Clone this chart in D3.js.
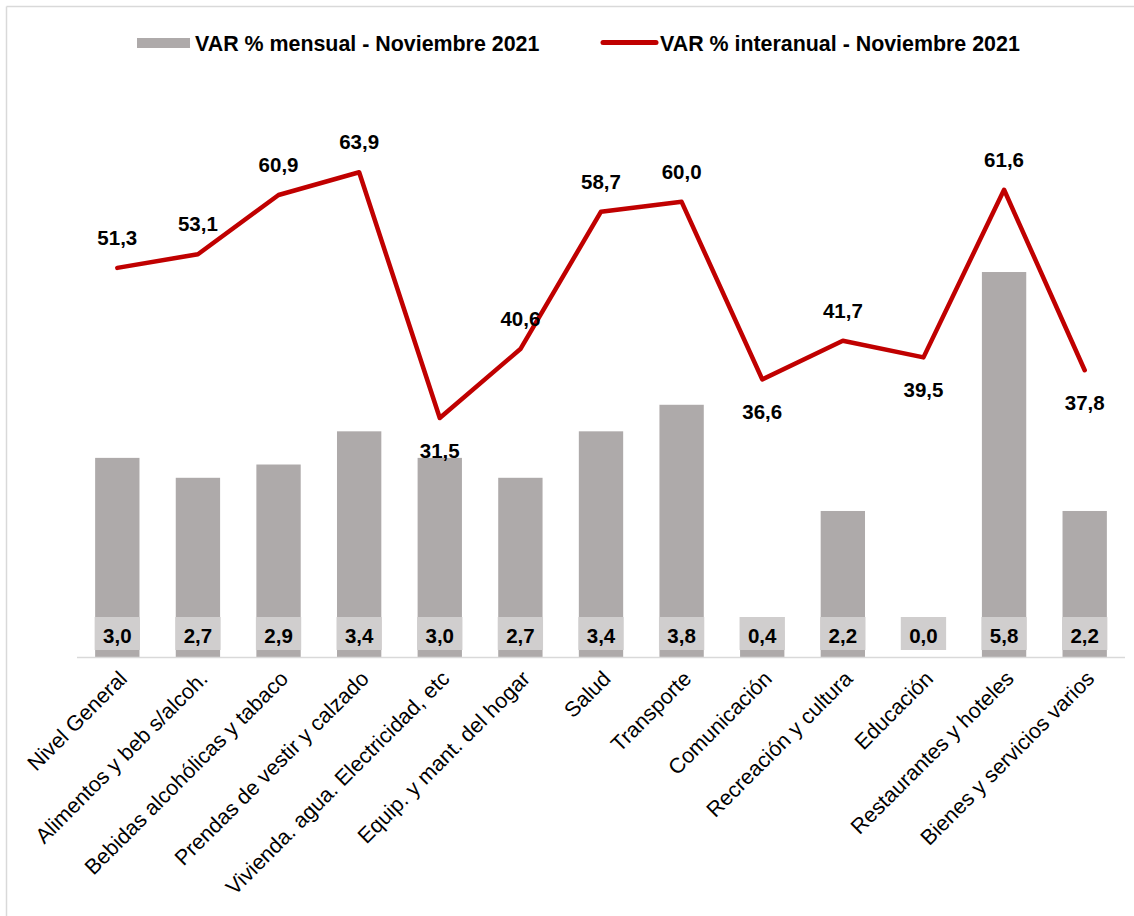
<!DOCTYPE html>
<html>
<head>
<meta charset="utf-8">
<script src="https://cdn.jsdelivr.net/npm/d3@7"></script>
<style>
  html, body { margin: 0; padding: 0; background: #fff; }
  svg { display: block; font-family: "Liberation Sans", Arial, sans-serif; }
</style>
</head>
<body>
<svg id="chart" width="1134" height="916"></svg>
<script>
const categories = [
  "Nivel General",
  "Alimentos y beb s/alcoh.",
  "Bebidas alcohólicas y tabaco",
  "Prendas de vestir y calzado",
  "Vivienda. agua. Electricidad, etc",
  "Equip. y mant. del hogar",
  "Salud",
  "Transporte",
  "Comunicación",
  "Recreación y cultura",
  "Educación",
  "Restaurantes y hoteles",
  "Bienes y servicios varios"
];
const mensual = [3.0, 2.7, 2.9, 3.4, 3.0, 2.7, 3.4, 3.8, 0.4, 2.2, 0.0, 5.8, 2.2];
const interanual = [51.3, 53.1, 60.9, 63.9, 31.5, 40.6, 58.7, 60.0, 36.6, 41.7, 39.5, 61.6, 37.8];
const seriesNames = ["VAR % mensual - Noviembre 2021", "VAR % interanual - Noviembre 2021"];

const fmt = v => v.toFixed(1).replace(".", ",");
const svg = d3.select("#chart");

const BAR = "#aeaaaa", BOX = "#d0cece", LINE = "#c00000", GRID = "#d9d9d9";

// outer border (top and left visible)
svg.append("line").attr("x1", 6.5).attr("x2", 1134).attr("y1", 6.5).attr("y2", 6.5)
  .attr("stroke", GRID).attr("stroke-width", 1.5);
svg.append("line").attr("x1", 6.5).attr("x2", 6.5).attr("y1", 6.5).attr("y2", 916)
  .attr("stroke", GRID).attr("stroke-width", 1.5);

const x = d3.scaleBand().domain(categories).range([77, 1125]).paddingInner(0.45).paddingOuter(0.225);
const yBar = d3.scaleLinear().domain([0, 8]).range([657, 126]);
const yLine = d3.scaleLinear().domain([0, 70]).range([657, 126]);

// bars
svg.append("g").selectAll("rect").data(mensual).join("rect")
  .attr("x", (d, i) => x(categories[i]))
  .attr("width", x.bandwidth())
  .attr("y", d => yBar(d))
  .attr("height", d => yBar(0) - yBar(d))
  .attr("fill", BAR);

// axis line
svg.append("line").attr("x1", 77).attr("x2", 1125).attr("y1", yBar(0) + 0.5).attr("y2", yBar(0) + 0.5)
  .attr("stroke", GRID).attr("stroke-width", 1.5);

// bar label boxes
const barLab = svg.append("g").selectAll("g").data(mensual).join("g");
barLab.append("rect")
  .attr("x", (d, i) => x(categories[i]) - 0.5)
  .attr("width", x.bandwidth() + 1)
  .attr("y", yBar(0) - 40)
  .attr("height", 33)
  .attr("fill", BOX);
barLab.append("text")
  .attr("x", (d, i) => x(categories[i]) + x.bandwidth() / 2)
  .attr("y", yBar(0) - 14)
  .attr("text-anchor", "middle")
  .attr("font-size", 20.5).attr("font-weight", "bold").attr("fill", "#000")
  .text(d => fmt(d));

// line
const cx = i => x(categories[i]) + x.bandwidth() / 2;
svg.append("path")
  .datum(interanual)
  .attr("fill", "none")
  .attr("stroke", LINE)
  .attr("stroke-width", 4.5)
  .attr("stroke-linejoin", "round")
  .attr("stroke-linecap", "round")
  .attr("d", d3.line().x((d, i) => cx(i)).y(d => yLine(d)));

// line labels: below for local dips, above otherwise
svg.append("g").selectAll("text").data(interanual).join("text")
  .attr("x", (d, i) => cx(i))
  .attr("y", (d, i) => {
    const prev = interanual[i - 1], next = interanual[i + 1];
    const below = prev !== undefined && d < prev && (next === undefined || d < next);
    return below ? yLine(d) + 40 : yLine(d) - 23;
  })
  .attr("text-anchor", "middle")
  .attr("font-size", 20.5).attr("font-weight", "bold").attr("fill", "#000")
  .text(d => fmt(d));

// x axis labels
svg.append("g").selectAll("text").data(categories).join("text")
  .attr("transform", (d, i) => `translate(${cx(i) + 11},${680}) rotate(-45)`)
  .attr("text-anchor", "end")
  .attr("font-size", 21.5).attr("fill", "#000")
  .text(d => d);

// legend
const lg = svg.append("g");
lg.append("rect").attr("x", 137).attr("y", 38).attr("width", 53).attr("height", 10).attr("fill", BAR);
lg.append("text").attr("x", 195).attr("y", 50.5).attr("font-size", 21.4).attr("font-weight", "bold")
  .attr("fill", "#000").text(seriesNames[0]);
lg.append("line").attr("x1", 603).attr("x2", 656).attr("y1", 42.5).attr("y2", 42.5)
  .attr("stroke", LINE).attr("stroke-width", 5).attr("stroke-linecap", "round");
lg.append("text").attr("x", 660).attr("y", 50.5).attr("font-size", 21.4).attr("font-weight", "bold")
  .attr("fill", "#000").text(seriesNames[1]);
</script>
</body>
</html>
